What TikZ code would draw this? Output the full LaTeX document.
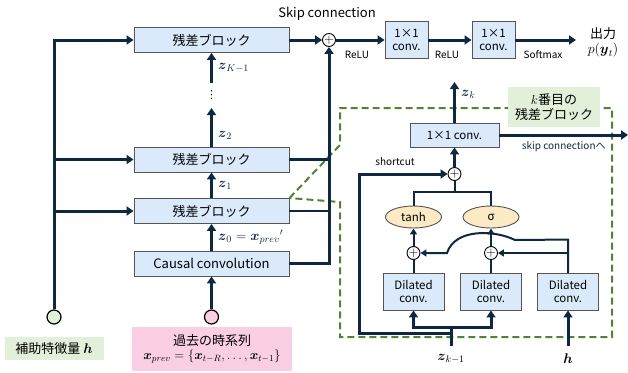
\RequirePackage{fix-cm}
\documentclass[tikz,border=0pt]{standalone}
\usepackage{amsmath}
\usepackage{fontspec}
\setmainfont{Noto Sans CJK JP}
\newfontfamily\dotsfont{DejaVu Sans}
\usetikzlibrary{arrows.meta, shapes.geometric, calc}

\definecolor{navy}{RGB}{14,40,65}
\definecolor{blkfill}{RGB}{218,234,250}
\definecolor{blkline}{RGB}{85,85,85}
\definecolor{leafgreen}{RGB}{84,130,53}
\definecolor{palegreen}{RGB}{226,240,217}
\definecolor{palepink}{RGB}{250,207,228}
\definecolor{paleorange}{RGB}{252,234,196}

\tikzset{
	blk/.style={draw=blkline, line width=0.9pt, fill=blkfill, minimum width=155pt, minimum height=25pt, inner sep=0pt},
	cbox/.style={blk, minimum width=43pt, minimum height=37pt, align=center, font=\fontsize{11.5}{13}\selectfont},
	dbox/.style={blk, minimum width=61pt, minimum height=37pt, align=center, font=\fontsize{11.5}{13}\selectfont},
	gate/.style={ellipse, draw=blkline, line width=0.9pt, fill=paleorange, minimum width=56pt, minimum height=22pt, inner sep=0pt, font=\fontsize{11.5}{13}\selectfont},
	plus/.style={circle, draw=black, line width=0.9pt, fill=white, minimum size=13pt, inner sep=0pt, font=\fontsize{13}{13}\selectfont},
	port/.style={circle, draw=black, line width=1.2pt, minimum size=14pt, inner sep=0pt},
	tag/.style={inner sep=0pt},
	small/.style={font=\fontsize{10}{12}\selectfont},
	zlab/.style={right=5pt, inner sep=0pt, font=\fontsize{14}{16}\selectfont},
	flow/.style={navy, line width=3pt, -{Triangle[length=7pt, width=9pt]}},
	flowin/.style={navy, line width=2pt, -{Triangle[length=6pt, width=7pt]}},
	link/.style={navy, line width=2.5pt},
	linkin/.style={navy, line width=2pt},
	zoomline/.style={leafgreen, line width=2pt, dash pattern=on 7pt off 4pt}
}

\begin{document}
\begin{tikzpicture}[x=1pt, y=-1pt, font=\fontsize{13}{15}\selectfont]
	\useasboundingbox (0,0) rectangle (628,372);

	% stack of residual blocks
	\node[blk] (blkA) at (211.5,40) {残差ブロック};
	\node[blk] (blkB) at (211.5,159.5) {残差ブロック};
	\node[blk] (blkC) at (211.5,211) {残差ブロック};
	\node[blk] (causal) at (211.5,263.5) {Causal convolution};
	\node[port, fill=palegreen] (hport) at (54,317) {};
	\node[port, fill=palepink] (xport) at (211.5,317) {};
	\node[tag, fill=palegreen, minimum width=99pt, minimum height=23pt] (htag) at (54,348.5) {補助特徴量 {\fontsize{14}{16}\selectfont$\boldsymbol{h}$}};
	\node[tag, fill=palepink, minimum width=160pt, minimum height=44pt, align=center] (xtag) at (212,349) {過去の時系列\\[-1pt] $\boldsymbol{x}_{prev}=\{\boldsymbol{x}_{t-R},\dots,\boldsymbol{x}_{t-1}\}$};

	% zoomed block outline
	\draw[zoomline] (blkC.north east) -- (340,145) -- (340,108) -- (612,108) -- (612,337) -- (340,337) -- (340,202) -- cycle;

	% output stage
	\node[plus] (sumA) at (329,40) {$+$};
	\node[cbox] (convA) at (406.5,40) {1×1\\conv.};
	\node[cbox] (convB) at (493.5,40) {1×1\\conv.};
	\coordinate (outA) at (576,40);
	\node[align=center, inner sep=0pt] (outtag) at (603,42) {出力\\ {\fontsize{14}{16}\selectfont$p(\boldsymbol{y}_t)$}};
	\node (skiptag) at (327,14) {Skip connection};
	\node[small] (reluA) at (357,55) {ReLU};
	\node[small] (reluB) at (447,55) {ReLU};
	\node[small] (smax) at (543,55) {Softmax};

	\draw[flow] (hport) |- (blkA);
	\draw[flow] (hport) |- (blkB);
	\draw[flow] (hport) |- (blkC);
	\draw[flow] (xport) -- (causal);
	\draw[flow] (causal) -- node[zlab] {$\boldsymbol{z}_0=\boldsymbol{x}_{prev}{}'$} (blkC);
	\draw[flow] (blkC) -- node[zlab] {$\boldsymbol{z}_1$} (blkB);
	\coordinate (gapLo) at (211.5,108);
	\coordinate (gapHi) at (211.5,83);
	\draw[flow] (blkB) -- node[zlab, pos=0.3] {$\boldsymbol{z}_2$} (gapLo);
	\node[inner sep=0pt, font=\dotsfont\fontsize{11}{11}\selectfont] (vdots) at (211.5,95) {⋮};
	\draw[flow] (gapHi) -- node[zlab] {$\boldsymbol{z}_{K-1}$} (blkA);

	\draw[flow] (causal) -| (sumA);
	\draw[link] (blkB.east) -- (blkB.east -| sumA);
	\draw[link] (blkC.east) -- (blkC.east -| sumA);
	\draw[flow] (blkA) -- (sumA);
	\draw[flow] (sumA) -- (convA);
	\draw[flow] (convA) -- (convB);
	\draw[flow] (convB) -- (outA);

	% inside one residual block
	\node[blk, minimum width=89pt, minimum height=24pt, font=\fontsize{11.5}{13}\selectfont] (cconv) at (454.5,135) {1×1 conv.};
	\coordinate (zk) at (454.5,82);
	\coordinate (skipout) at (628,135);
	\node[tag, fill=palegreen, align=center, minimum width=92pt, minimum height=40pt] (ktag) at (554,107) {$k$番目の\\残差ブロック};
	\node[plus] (sumS) at (454.5,174) {$+$};
	\node[gate] (tanh) at (413.5,217) {tanh};
	\node[gate] (sig) at (491,217) {σ};
	\node[plus] (sumT) at (413.5,253) {$+$};
	\node[plus] (sumG) at (491,253) {$+$};
	\node[dbox] (dcA) at (413.5,291.5) {Dilated\\conv.};
	\node[dbox] (dcB) at (491,291.5) {Dilated\\conv.};
	\node[dbox] (dcC) at (568,291.5) {Dilated\\conv.};
	\coordinate (zin) at (451,346);
	\coordinate (hin) at (568,346);
	\node[font=\fontsize{14}{16}\selectfont] (zintag) at (451,359) {$\boldsymbol{z}_{k-1}$};
	\node[font=\fontsize{14}{16}\selectfont] (hintag) at (568,359) {$\boldsymbol{h}$};
	\node[small] (sctag) at (395,162) {shortcut};
	\coordinate (join) at (454.5,192);

	\draw[flow] (cconv) -- node[zlab, pos=0.7] {$\boldsymbol{z}_k$} (zk);
	\draw[flow] (cconv) -- node[small, below=2pt] {skip connectionへ} (skipout);
	\draw[flow] (sumS) -- (cconv);
	\draw[flow] (zin) -- ++(0,-13) -| (359,174) -- (sumS);
	\draw[flow] (zin) -- ++(0,-19) -| (dcA);
	\draw[flow] (zin) ++(0,-19) -| (dcB);
	\draw[linkin] (dcA) -- (sumT);
	\draw[flowin] (sumT) -- (tanh);
	\draw[linkin] (dcB) -- (sumG);
	\draw[flowin] (sumG) -- (sig);
	\draw[linkin] (tanh) |- (join) -| (sig);
	\draw[linkin] (join) -- (sumS);
	\draw[flow] (hin) -- (dcC);
	\draw[flowin] (dcC) |- (sumG);
	\draw[flowin] (dcC.north) -- ++(0,-33) -- (515,240) .. controls (495,230) and (455,228) .. (447,253) -- (sumT);
\end{tikzpicture}
\end{document}
